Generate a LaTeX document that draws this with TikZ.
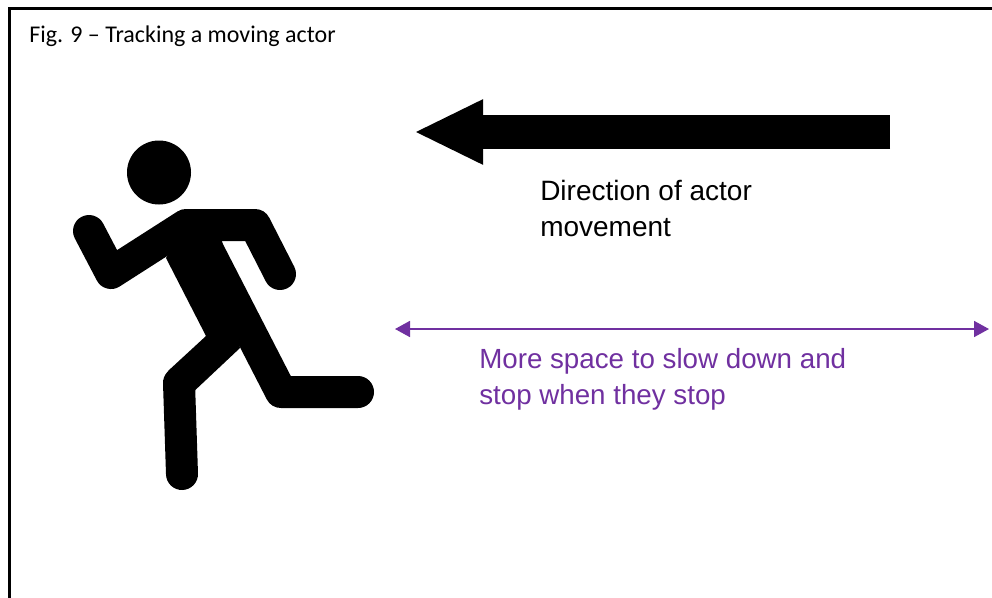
\documentclass[tikz,border=0pt]{standalone}
\usepackage{fontspec}
\setmainfont{Liberation Sans}
\newfontfamily\captionfont{Carlito}
\usepackage{xcolor}
\usetikzlibrary{arrows.meta}
\definecolor{SpacePurple}{RGB}{112,48,160}
\tikzset{
  frameline/.style={draw=black, line width=2.25pt},
  figlabel/.style={anchor=base west, inner sep=0pt, font=\captionfont\fontsize{18}{21}\selectfont},
  notelabel/.style={anchor=north west, inner sep=0pt, align=left, font=\fontsize{21}{27}\selectfont},
  limb/.style={draw=black, line width=24pt, line cap=round, line join=round},
  movearrow/.style={-{Triangle[length=51.75pt, width=45pt]}, line width=25.5pt, black},
  spacearrow/.style={{Triangle[length=11.25pt, width=12pt]}-{Triangle[length=11.25pt, width=12pt]}, line width=1.3pt, SpacePurple},
}
\begin{document}
\begin{tikzpicture}[x=0.75pt, y=-0.75pt]
  \useasboundingbox (0,0) rectangle (992,597);
  \draw[frameline] (9,640) -- (9,8.5) -- (1000,8.5);
  \node[figlabel] (figtitle) at (29,42) {Fig. 9 – Tracking a moving actor};
  % runner
  \fill (159,172.5) circle[radius=32];
  \draw[limb] (89,231) -- (111,273) -- (186,225) -- (255,225) -- (280,274);
  \fill (186,225) -- (222,241) -- (240,348) -- (190,395) -- (168,371) -- (206,336) -- (166,258) -- cycle;
  \draw[limb] (208,250) -- (281,392) -- (358,392);
  \draw[limb] (179,383) -- (182,474);
  % direction
  \coordinate (movestart) at (890,132);
  \coordinate (movetip) at (414,132);
  \draw[movearrow] (movestart) -- (movetip);
  \node[notelabel] (movelabel) at (540,180) {Direction of actor\\movement};
  % stopping space
  \coordinate (spaceleft) at (395,329);
  \coordinate (spaceright) at (989,329);
  \draw[spacearrow] (spaceleft) -- (spaceright);
  \node[notelabel, text=SpacePurple, font=\fontsize{20.8}{27}\selectfont] (spacelabel) at (479,348) {More space to slow down and\\stop when they stop};
\end{tikzpicture}
\end{document}
